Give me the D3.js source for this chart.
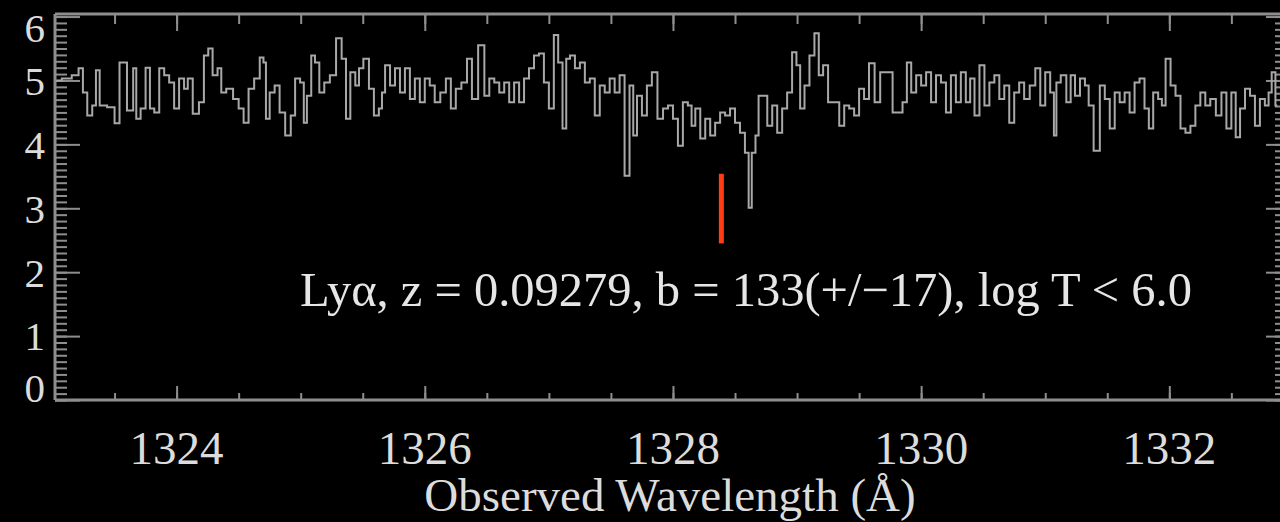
<!DOCTYPE html>
<html>
<head>
<meta charset="utf-8">
<script src="https://cdn.jsdelivr.net/npm/d3@7"></script>
<style>
  html, body { margin: 0; padding: 0; background: #000; }
  svg { display: block; }
  text { font-family: "Liberation Serif", "Times New Roman", serif; }
</style>
</head>
<body>
<svg id="chart" width="1280" height="522"></svg>
<script>
// Observed spectrum around the Lyα absorber (wavelength in Å, flux in arbitrary units)
const wavelength = [
  1323.03, 1323.12, 1323.19, 1323.23, 1323.26, 1323.30, 1323.34, 1323.36, 1323.40, 1323.48,
  1323.52, 1323.56, 1323.64, 1323.66, 1323.69, 1323.73, 1323.77, 1323.80, 1323.84, 1323.88,
  1323.92, 1323.96, 1324.00, 1324.04, 1324.08, 1324.10, 1324.16, 1324.20, 1324.24, 1324.27,
  1324.31, 1324.35, 1324.37, 1324.43, 1324.48, 1324.52, 1324.56, 1324.60, 1324.65, 1324.69,
  1324.71, 1324.73, 1324.77, 1324.81, 1324.85, 1324.90, 1324.94, 1324.97, 1325.02, 1325.03,
  1325.07, 1325.10, 1325.13, 1325.17, 1325.21, 1325.26, 1325.31, 1325.35, 1325.38, 1325.42,
  1325.46, 1325.48, 1325.53, 1325.57, 1325.61, 1325.65, 1325.66, 1325.70, 1325.74, 1325.78,
  1325.82, 1325.86, 1325.90, 1325.94, 1325.98, 1326.02, 1326.06, 1326.10, 1326.15, 1326.19,
  1326.23, 1326.27, 1326.32, 1326.36, 1326.40, 1326.46, 1326.50, 1326.54, 1326.58, 1326.62,
  1326.66, 1326.70, 1326.74, 1326.78, 1326.82, 1326.86, 1326.90, 1326.94, 1326.98, 1327.02,
  1327.06, 1327.09, 1327.13, 1327.15, 1327.19, 1327.23, 1327.27, 1327.31, 1327.35, 1327.39,
  1327.43, 1327.47, 1327.51, 1327.55, 1327.59, 1327.63, 1327.67, 1327.69, 1327.73, 1327.77,
  1327.81, 1327.85, 1327.90, 1327.94, 1327.98, 1328.02, 1328.06, 1328.10, 1328.14, 1328.16,
  1328.20, 1328.24, 1328.28, 1328.32, 1328.36, 1328.40, 1328.44, 1328.48, 1328.52, 1328.56,
  1328.60, 1328.62, 1328.65, 1328.68, 1328.70, 1328.74, 1328.78, 1328.82, 1328.86, 1328.90,
  1328.94, 1328.98, 1329.01, 1329.04, 1329.08, 1329.12, 1329.16, 1329.19, 1329.23, 1329.27,
  1329.32, 1329.36, 1329.40, 1329.44, 1329.48, 1329.52, 1329.56, 1329.60, 1329.65, 1329.69,
  1329.75, 1329.79, 1329.83, 1329.87, 1329.90, 1329.94, 1329.98, 1330.02, 1330.06, 1330.10,
  1330.14, 1330.18, 1330.22, 1330.26, 1330.30, 1330.34, 1330.38, 1330.41, 1330.45, 1330.49,
  1330.53, 1330.57, 1330.61, 1330.65, 1330.69, 1330.73, 1330.77, 1330.81, 1330.85, 1330.90,
  1330.94, 1330.98, 1331.02, 1331.06, 1331.08, 1331.10, 1331.15, 1331.19, 1331.22, 1331.26,
  1331.30, 1331.34, 1331.36, 1331.42, 1331.46, 1331.50, 1331.54, 1331.58, 1331.62, 1331.66,
  1331.70, 1331.74, 1331.78, 1331.82, 1331.85, 1331.89, 1331.93, 1331.95, 1331.99, 1332.03,
  1332.07, 1332.11, 1332.15, 1332.19, 1332.23, 1332.27, 1332.31, 1332.35, 1332.40, 1332.44,
  1332.48, 1332.52, 1332.55, 1332.59, 1332.63, 1332.67, 1332.71, 1332.75, 1332.79, 1332.81,
  1332.84, 1332.87
];
const flux = [
  5.00, 5.03, 5.08, 5.19, 4.81, 4.45, 4.61, 5.16, 4.61, 4.58,
  4.33, 5.28, 4.53, 5.19, 4.40, 4.56, 5.20, 4.56, 4.50, 5.19,
  5.08, 4.97, 4.56, 5.03, 4.87, 5.03, 4.48, 4.66, 5.39, 5.50,
  5.08, 5.19, 4.81, 4.87, 4.71, 4.56, 4.34, 4.87, 5.03, 5.36,
  5.28, 4.40, 4.81, 4.92, 4.50, 4.14, 4.45, 5.03, 4.97, 4.34,
  4.76, 5.39, 5.28, 4.81, 4.97, 5.08, 5.66, 5.34, 4.40, 5.13,
  4.92, 5.19, 5.34, 4.87, 4.45, 4.56, 4.81, 5.24, 4.92, 5.19,
  4.81, 5.19, 4.71, 5.03, 4.66, 5.03, 4.92, 4.66, 4.81, 5.03,
  4.56, 4.87, 4.97, 5.34, 4.71, 5.55, 4.76, 5.03, 4.97, 4.81,
  4.97, 4.66, 4.97, 4.66, 5.03, 5.19, 5.39, 5.42, 4.97, 4.56,
  5.71, 5.28, 4.25, 5.34, 5.39, 5.19, 5.28, 4.97, 5.03, 4.45,
  4.92, 4.81, 5.03, 4.81, 5.08, 3.51, 4.92, 4.14, 4.76, 4.45,
  4.92, 5.13, 4.40, 4.56, 4.61, 4.40, 3.98, 4.66, 4.61, 4.29,
  4.56, 4.09, 4.40, 4.14, 4.34, 4.50, 4.45, 4.56, 4.34, 4.18,
  3.87, 3.01, 3.87, 4.14, 4.76, 4.76, 4.29, 4.61, 4.18, 4.56,
  4.81, 5.44, 5.24, 4.56, 4.92, 5.39, 5.74, 5.08, 5.24, 4.66,
  4.66, 4.29, 4.61, 4.56, 4.45, 4.87, 4.71, 5.27, 4.66, 5.13,
  5.13, 4.50, 4.50, 4.66, 5.28, 4.81, 5.08, 4.92, 5.13, 4.66,
  5.08, 4.97, 4.50, 5.08, 4.66, 5.13, 4.66, 5.03, 4.45, 5.24,
  4.61, 4.97, 5.08, 4.71, 4.92, 4.34, 4.81, 4.97, 4.71, 4.92,
  5.19, 4.61, 5.13, 4.81, 4.14, 4.97, 5.08, 4.66, 5.08, 4.76,
  5.03, 4.92, 4.61, 3.90, 4.92, 4.71, 4.25, 4.81, 4.66, 4.81,
  4.50, 4.97, 5.03, 4.56, 4.25, 4.81, 4.71, 4.61, 5.34, 4.92,
  4.76, 4.25, 4.18, 4.29, 4.61, 4.81, 4.61, 4.71, 4.45, 4.81,
  4.25, 4.81, 4.11, 4.56, 4.87, 4.76, 4.29, 4.71, 4.61, 4.81,
  5.13, 4.61
];

// Axis limits and tick values
const xDomain = [1323.02, 1332.90];
const yDomain = [0, 6.04];
const xMajorTicks = [1324, 1326, 1328, 1330, 1332];
const xMinorTicks = d3.range(1323.5, 1332.9, 0.5);
const yMajorTicks = [0, 1, 2, 3, 4, 5, 6];
const yMinorTicks = d3.range(0, 6.01, 0.1);

// Absorption-line marker: wavelength and vertical flux span
const markerWavelength = 1328.39;
const markerFlux = [2.45, 3.54];

const annotation = "Ly\u03B1, z = 0.09279, b = 133(+/\u221217), log T < 6.0";
const xTitle = "Observed Wavelength (\u00C5)";

const svg = d3.select("#chart");
const W = 1280, H = 522;
const plot = { left: 55, right: 1281, top: 14, bottom: 400 };

const x = d3.scaleLinear().domain(xDomain).range([plot.left, plot.right]);
const y = d3.scaleLinear().domain(yDomain).range([plot.bottom, plot.top]);

svg.append("rect").attr("width", W).attr("height", H).attr("fill", "#000");

const axisColor = "#8e8e8e";
const labelColor = "#dcdcdc";

function styleAxis(g) {
  g.select(".domain").remove();
  g.selectAll("line").attr("stroke", axisColor).attr("stroke-width", 2);
}

// Bottom axis: minor and major ticks pointing inward
svg.append("g").attr("transform", `translate(0,${plot.bottom})`)
  .call(d3.axisTop(x).tickValues(xMinorTicks).tickSize(7).tickFormat(""))
  .call(styleAxis);
svg.append("g").attr("transform", `translate(0,${plot.bottom})`)
  .call(d3.axisTop(x).tickValues(xMajorTicks).tickSize(14).tickFormat(""))
  .call(styleAxis);

// Top axis
svg.append("g").attr("transform", `translate(0,${plot.top})`)
  .call(d3.axisBottom(x).tickValues(xMinorTicks).tickSize(10).tickFormat(""))
  .call(styleAxis);
svg.append("g").attr("transform", `translate(0,${plot.top})`)
  .call(d3.axisBottom(x).tickValues(xMajorTicks).tickSize(17).tickFormat(""))
  .call(styleAxis);

// Left axis
svg.append("g").attr("transform", `translate(${plot.left},0)`)
  .call(d3.axisRight(y).tickValues(yMinorTicks).tickSize(12).tickFormat(""))
  .call(styleAxis);
svg.append("g").attr("transform", `translate(${plot.left},0)`)
  .call(d3.axisRight(y).tickValues(yMajorTicks).tickSize(25).tickFormat(""))
  .call(styleAxis);

// Right axis
svg.append("g").attr("transform", `translate(${plot.right},0)`)
  .call(d3.axisLeft(y).tickValues(yMinorTicks).tickSize(6).tickFormat(""))
  .call(styleAxis);
svg.append("g").attr("transform", `translate(${plot.right},0)`)
  .call(d3.axisLeft(y).tickValues(yMajorTicks).tickSize(15).tickFormat(""))
  .call(styleAxis);

// Frame lines
const frame = svg.append("g").attr("stroke", axisColor).attr("stroke-width", 3);
frame.append("line").attr("x1", plot.left).attr("x2", plot.right).attr("y1", plot.bottom).attr("y2", plot.bottom);
frame.append("line").attr("x1", plot.left).attr("x2", plot.right).attr("y1", plot.top).attr("y2", plot.top);
frame.append("line").attr("x1", plot.left).attr("x2", plot.left).attr("y1", plot.top).attr("y2", plot.bottom);

// Tick labels
svg.append("g").selectAll("text").data(xMajorTicks).join("text")
  .attr("x", d => x(d))
  .attr("y", 464)
  .attr("text-anchor", "middle")
  .attr("fill", labelColor)
  .attr("font-size", 47)
  .text(d => d);

// y labels sit on their ticks, nudged inside the frame at both ends
svg.append("g").selectAll("text").data(yMajorTicks).join("text")
  .attr("x", 45)
  .attr("y", d => Math.max(plot.top + 14, Math.min(y(d), plot.bottom - 12)))
  .attr("dy", "0.35em")
  .attr("text-anchor", "end")
  .attr("fill", labelColor)
  .attr("font-size", 41)
  .text(d => d);

// Axis title
svg.append("text")
  .attr("x", 670)
  .attr("y", 511)
  .attr("text-anchor", "middle")
  .attr("fill", labelColor)
  .attr("font-size", 47)
  .text(xTitle);

// Spectrum
const series = wavelength.map((w, i) => ({ w, f: flux[i] }));
const line = d3.line()
  .x(d => x(d.w))
  .y(d => y(d.f))
  .curve(d3.curveStep);

svg.append("path")
  .datum(series)
  .attr("fill", "none")
  .attr("stroke", "#a8a8a8")
  .attr("stroke-width", 2)
  .attr("stroke-linejoin", "miter")
  .attr("d", line);

// Line marker
svg.append("line")
  .attr("x1", x(markerWavelength)).attr("x2", x(markerWavelength))
  .attr("y1", y(markerFlux[1])).attr("y2", y(markerFlux[0]))
  .attr("stroke", "#ff3c14")
  .attr("stroke-width", 5);

// Annotation
svg.append("text")
  .attr("x", 300)
  .attr("y", 306)
  .attr("fill", "#e6e6e6")
  .attr("font-size", 48.5)
  .text(annotation);
</script>
</body>
</html>
